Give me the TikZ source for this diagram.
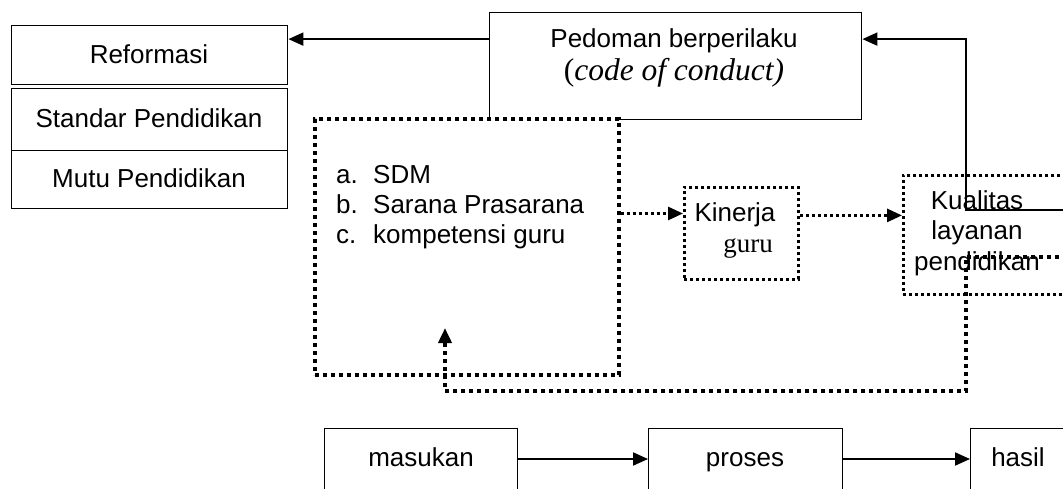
\documentclass[tikz,border=0pt]{standalone}
\usepackage{fontspec}
\setmainfont{Liberation Sans}
\newfontfamily\tms{Liberation Serif}
\usetikzlibrary{arrows.meta,calc}
\tikzset{
  sbox/.style={draw, line width=1.4pt, inner sep=0pt, anchor=north west, font=\fontsize{26}{30}\selectfont},
  dbox/.style={draw, line width=3.6pt, dash pattern=on 4pt off 4pt, inner sep=0pt, anchor=north west, fill=white},
  tbox/.style={dbox, line width=2.8pt, dash pattern=on 3pt off 3pt},
  mtxt/.style={inner sep=0pt, font=\fontsize{26}{30}\selectfont},
  txt/.style={mtxt, text height=18.7pt, text depth=0pt},
  stxt/.style={inner sep=0pt, font={\tms\fontsize{27}{30}\selectfont}, text height=17pt, text depth=0pt},
  arr/.style={line width=2pt, -{Triangle[length=15pt,width=13pt]}},
  darr/.style={line width=3.6pt, dash pattern=on 4pt off 4pt, -{Triangle[length=15pt,width=13pt]}},
  tarr/.style={line width=2.8pt, dash pattern=on 3pt off 3pt, -{Triangle[length=15pt,width=13pt]}},
}
\begin{document}
\begin{tikzpicture}[x=1pt,y=-1pt]
\useasboundingbox (0,0) rectangle (1063,489);
\clip (0,0) rectangle (1063,489);
% left stack
\node[sbox, minimum width=276pt, minimum height=59pt] (ref) at (11,25) {};
\node[sbox, minimum width=276pt, minimum height=62pt] (std) at (11,88) {};
\node[sbox, minimum width=276pt, minimum height=58pt] (mutu) at (11,150) {};
\node[txt] (reft) at (149,54) {Reformasi};
\node[txt] (stdt) at (149,118) {Standar Pendidikan};
\node[txt] (mutut) at (149,178) {Mutu Pendidikan};
% code of conduct
\node[sbox, minimum width=372pt, minimum height=107pt] (ped) at (489,12) {};
\node[txt] (pedt1) at (674,38) {Pedoman berperilaku};
\node[inner sep=0pt, font={\tms\fontsize{31.5}{34}\selectfont}] (pedt2) at (674,73) {(\textit{code of conduct)}};
% resources box
\node[dbox, minimum width=304pt, minimum height=256pt] (sdm) at (313,117) {};
\node[mtxt, anchor=west, align=left] (sdmt) at (336,207)
  {\makebox[37pt][l]{a.}SDM\\\makebox[37pt][l]{b.}Sarana Prasarana\\\makebox[37pt][l]{c.}kompetensi guru};
% kinerja
\node[tbox, minimum width=114pt, minimum height=92pt] (kin) at (683,186) {};
\node[txt] (kint1) at (735,212) {Kinerja};
\node[stxt] (kint2) at (748,244) {guru};
% kualitas
\node[tbox, minimum width=220pt, minimum height=119pt] (kual) at (902,174) {};
\node[mtxt, align=center, font=\fontsize{26}{30.5}\selectfont] (kualt) at (977,233) {Kualitas\\layanan\\pendidikan};
% bottom row
\node[sbox, minimum width=193pt, minimum height=90pt] (mas) at (324,428) {};
\node[sbox, minimum width=194pt, minimum height=90pt] (pro) at (648,428) {};
\node[sbox, minimum width=150pt, minimum height=90pt] (has) at (970,428) {};
\node[txt] (mast) at (421,457) {masukan};
\node[txt] (prot) at (745,457) {proses};
\node[txt] (hast) at (1018,457) {hasil};
% connectors
\coordinate (pw) at ($(ped.north west)!0.25!(ped.south west)$);
\draw[arr] (pw) -- (pw -| ref.east);
\coordinate (pe) at ($(ped.north east)!0.25!(ped.south east)$);
\coordinate (rin) at (1075,210);
\coordinate (rc) at (966,210);
\draw[arr] (rin) -- (rc) -- (rc |- pe) -- (pe);
\coordinate (kw) at ($(kin.north west)!0.29!(kin.south west)$);
\draw[tarr] (kw -| sdm.east) -- (kw);
\coordinate (qw) at ($(kual.north west)!0.34!(kual.south west)$);
\draw[tarr] (kin.east |- qw) -- (qw);
\coordinate (fb) at (1075,257);
\coordinate (fc) at (966,391);
\coordinate (fd) at (445,391);
\coordinate (ft) at (445,328);
\draw[darr] (fb) -- (fc |- fb) -- (fc) -- (fd) -- (ft);
\coordinate (mo) at ($(mas.north east)+(0,31)$);
\draw[arr] (mo) -- (mo -| pro.west);
\coordinate (po) at ($(pro.north east)+(0,31)$);
\draw[arr] (po) -- (po -| has.west);
\end{tikzpicture}
\end{document}
